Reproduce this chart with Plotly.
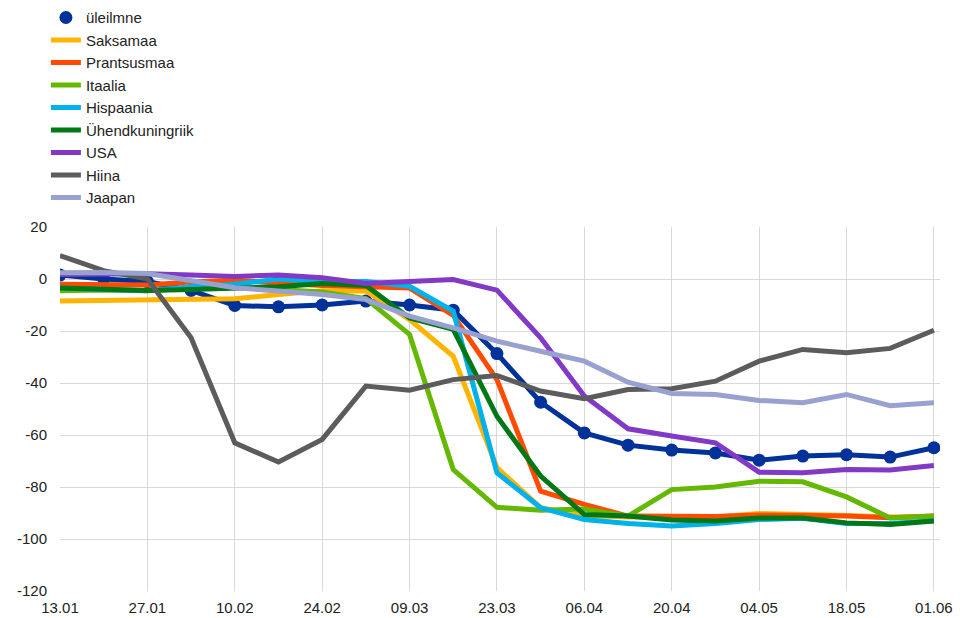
import plotly.graph_objects as go

# Weekly observations, 13 January to 1 June 2020
weeks = ["13.01", "20.01", "27.01", "03.02", "10.02", "17.02", "24.02", "02.03",
         "09.03", "16.03", "23.03", "30.03", "06.04", "13.04", "20.04", "27.04",
         "04.05", "11.05", "18.05", "25.05", "01.06"]

global_idx = [1.5, 0.0, -1.0, -4.4, -10.2, -10.7, -10.0, -8.5, -10.0, -12.0, -28.7,
              -47.4, -59.2, -63.9, -65.8, -66.9, -69.7, -68.1, -67.6, -68.5, -64.9]
germany = [-8.5, -8.2, -8.3, -7.8, -7.6, -6.0, -4.5, -4.6, -15.6, -29.7, -72.5,
           -88.0, -91.0, -91.5, -91.5, -91.5, -90.2, -90.8, -91.0, -91.5, -91.3]
france = [-2.0, -2.0, -2.3, -1.2, -0.5, -1.5, -2.5, -3.0, -3.5, -14.0, -38.7,
          -81.6, -86.7, -91.2, -91.2, -91.3, -90.8, -90.8, -91.2, -91.8, -91.2]
italy = [-4.5, -4.2, -4.5, -3.5, -3.2, -4.0, -5.0, -7.5, -21.3, -73.3, -87.8,
         -88.9, -88.5, -91.2, -81.0, -80.0, -77.8, -78.0, -83.8, -91.9, -91.2]
spain = [-3.5, -4.0, -4.5, -3.0, -2.0, 0.0, -1.0, -1.0, -2.8, -12.4, -74.5,
         -88.0, -92.5, -94.0, -95.0, -94.0, -92.5, -92.0, -94.0, -94.0, -93.0]
uk = [-3.5, -4.0, -4.4, -4.0, -3.5, -3.0, -1.7, -2.5, -15.0, -19.4, -52.8,
      -75.8, -90.6, -91.2, -92.7, -93.1, -91.9, -91.9, -93.8, -94.4, -93.1]
usa = [1.7, 2.0, 2.0, 1.5, 1.0, 1.5, 0.5, -1.7, -0.8, -0.2, -4.3,
       -22.6, -45.0, -57.6, -60.4, -63.0, -74.3, -74.5, -73.3, -73.5, -71.7]
china = [9.0, 3.2, 0.0, -22.6, -63.0, -70.4, -61.7, -41.2, -42.8, -38.7, -37.1,
         -43.1, -46.0, -42.5, -42.2, -39.3, -31.6, -27.1, -28.4, -26.7, -19.7]
japan = [2.4, 2.5, 2.1, -0.8, -3.4, -4.6, -6.0, -7.9, -14.3, -18.8, -23.9,
         -27.8, -31.6, -39.7, -44.0, -44.4, -46.7, -47.6, -44.4, -48.7, -47.6]

y_ticks = [20, 0, -20, -40, -60, -80, -100, -120]
y_labels = ["20", "0", "-20", "-40", "-60", "-80", "-100", "-120"]

series = [
    ("Saksamaa", germany, "#FFB400"),
    ("Prantsusmaa", france, "#FF4B00"),
    ("Itaalia", italy, "#65B800"),
    ("Hispaania", spain, "#00B1EA"),
    ("Ühendkuningriik", uk, "#007816"),
    ("USA", usa, "#8139C6"),
    ("Hiina", china, "#5C5C5C"),
    ("Jaapan", japan, "#98A1D0"),
]

x = list(range(len(weeks)))
fig = go.Figure()

# Global index: line with dots, legend shows only the dot
fig.add_trace(go.Scatter(
    x=x, y=global_idx, mode="lines+markers", name="üleilmne",
    line=dict(color="#003299", width=5),
    marker=dict(color="#003299", size=13),
    showlegend=False, legendgroup="g0",
))
fig.add_trace(go.Scatter(
    x=[None], y=[None], mode="markers", name="üleilmne",
    marker=dict(color="#003299", size=13), legendgroup="g0",
))

for i, (name, vals, color) in enumerate(series, start=1):
    fig.add_trace(go.Scatter(
        x=x, y=vals, mode="lines", name=name,
        line=dict(color=color, width=5), legendgroup=f"g{i}",
    ))

fig.update_layout(
    width=960, height=618,
    margin=dict(l=60, r=20, t=227, b=27, autoexpand=False),
    paper_bgcolor="white", plot_bgcolor="white",
    font=dict(family="Liberation Sans, Arial, sans-serif", size=15, color="#222222"),
    showlegend=True,
    legend=dict(
        x=-0.016, y=0.998, xanchor="left", yanchor="top", yref="container",
        traceorder="grouped", tracegroupgap=0, itemwidth=30,
        font=dict(size=15, color="#222222"), bgcolor="rgba(0,0,0,0)",
    ),
    xaxis=dict(
        range=[0, 20.14], tickmode="array",
        tickvals=x[::2], ticktext=weeks[::2],
        showgrid=True, gridcolor="#D9D9D9", gridwidth=1,
        zeroline=False, showline=False, ticks="", ticklabelstandoff=6,
        tickfont=dict(size=15, color="#222222"),
    ),
    yaxis=dict(
        range=[-120, 20], tickmode="array", tickvals=y_ticks, ticktext=y_labels,
        showgrid=True, gridcolor="#D9D9D9", gridwidth=1,
        zeroline=False, showline=False, ticks="", ticklabelstandoff=12,
        tickfont=dict(size=15, color="#222222"),
    ),
)

fig.write_html("out.html")
